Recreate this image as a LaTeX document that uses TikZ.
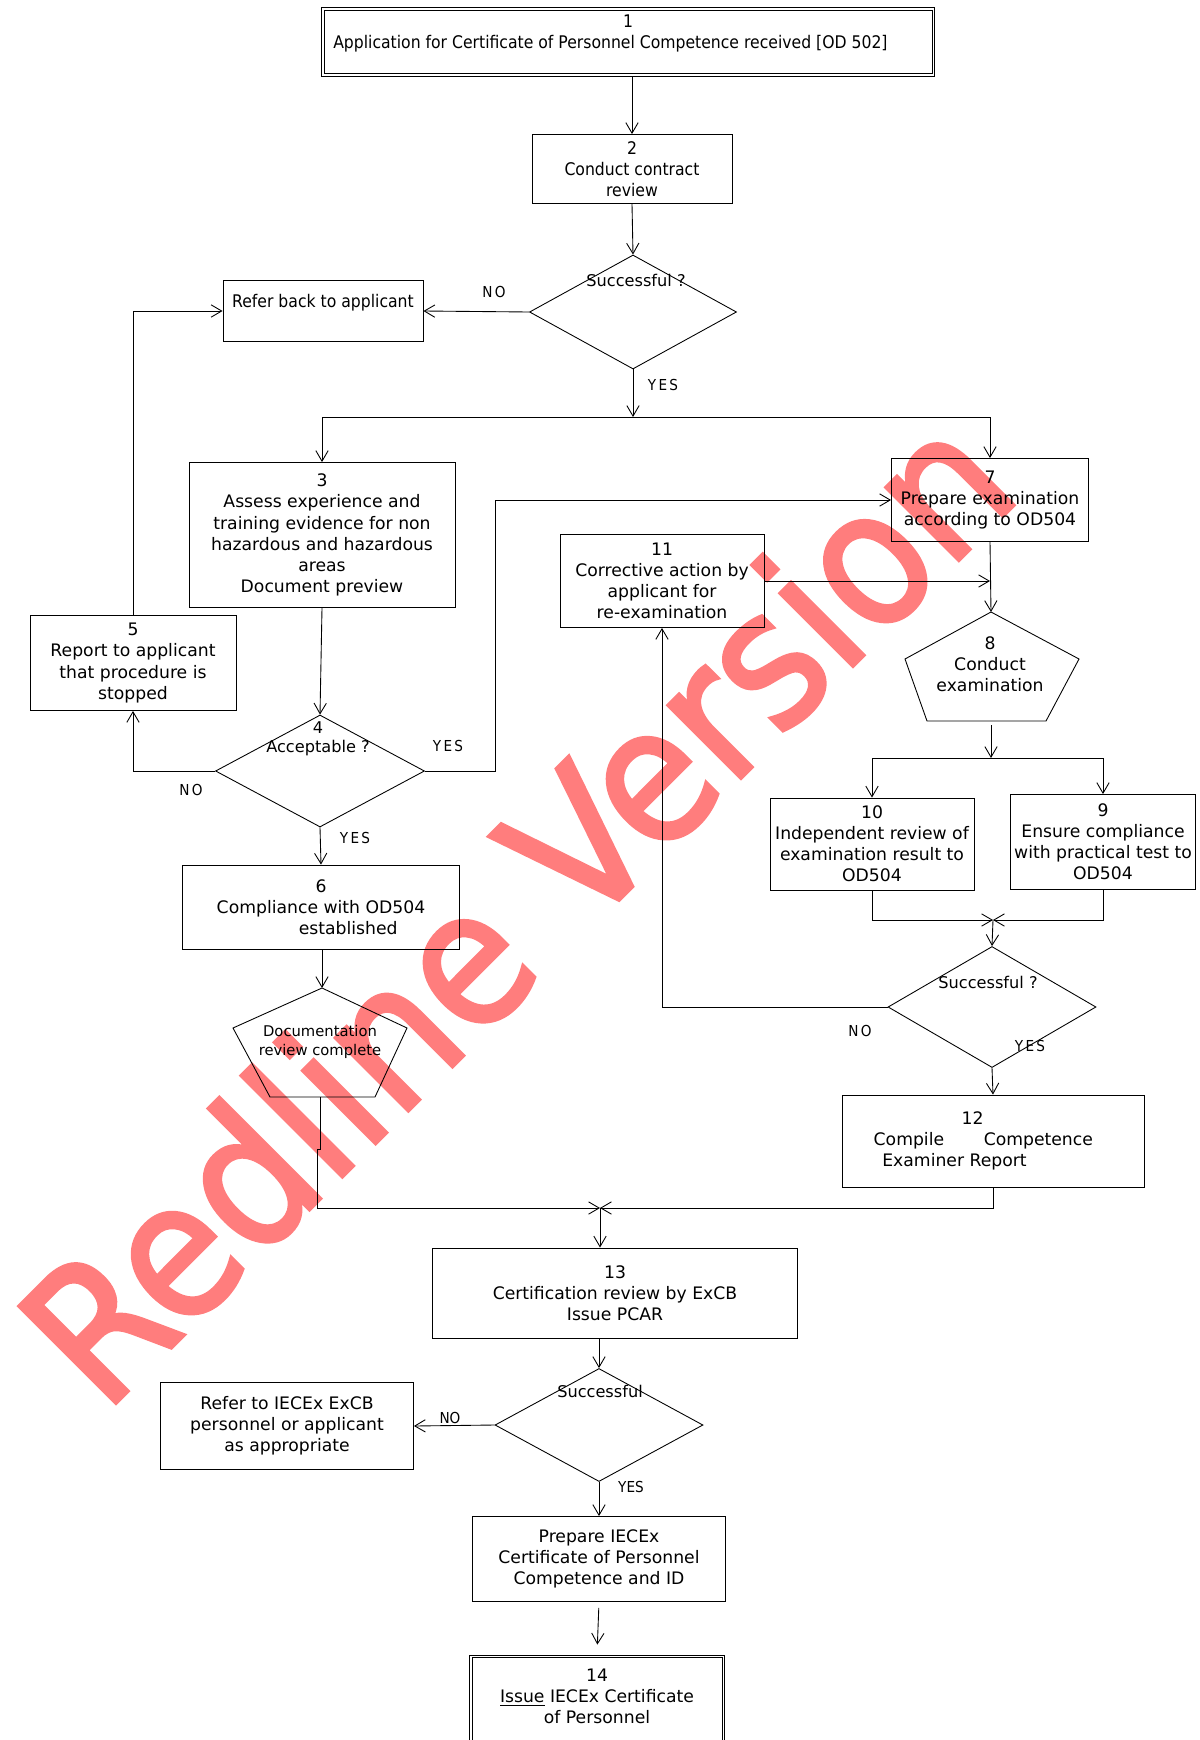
\documentclass[tikz,border=0pt]{standalone}
\usepackage{fontspec}
\setmainfont{DejaVu Sans}
\newfontfamily\condfont{DejaVu Sans Condensed}
\newfontfamily\markfont[FakeBold=2]{DejaVu Sans Condensed}
\newfontfamily\lblfont[LetterSpace=15]{DejaVu Sans Condensed}
\usetikzlibrary{shapes.geometric,arrows.meta}

\begin{document}
\begin{tikzpicture}[x=0.2mm, y=-0.2mm,
    >={Straight Barb[length=6pt,width=7pt]},
    line width=0.5pt,
    box/.style={draw, align=center, inner sep=1pt, font=\fontsize{9.8}{12}\selectfont},
    cbox/.style={box, font=\condfont\fontsize{9.9}{12}\selectfont},
    decision/.style={draw, diamond, inner sep=0pt},
    txt/.style={align=center, inner sep=0pt, font=\fontsize{9.2}{11}\selectfont},
    yesno/.style={inner sep=0pt, font=\lblfont\fontsize{8.6}{10}\selectfont},
  ]

\definecolor{markred}{RGB}{255,125,125}
\useasboundingbox (0,0) rectangle (1199,1740);
\clip (0,0) rectangle (1199,1740);

%watermark
\node[rotate=45, anchor=base west, inner sep=0pt, text=markred, font=\markfont\fontsize{107}{107}\selectfont] (mark) at (104,1415) {Redline Version};

%boxes
\node[cbox, minimum width=122.6mm, minimum height=13.8mm] (app) at (628,42) {1\\Application for Certificate of Personnel Competence received [OD 502]\hspace*{20pt}\mbox{}\\\mbox{}};
\draw ([xshift=0.6mm,yshift=-0.6mm]app.north west) rectangle ([xshift=-0.6mm,yshift=0.6mm]app.south east);
\node[cbox, minimum width=40mm, minimum height=13.8mm] (rev) at (632,169) {2\\Conduct contract\\review};
\node[cbox, minimum width=40mm, minimum height=12.2mm] (refer) at (323,311) {Refer back to applicant\\\mbox{}};
\node[box, minimum width=53.2mm, minimum height=29mm] (assess) at (322,535) {3\\Assess experience and\\training evidence for non\\hazardous and hazardous\\areas\\Document preview};
\node[box, minimum width=41.2mm, minimum height=19mm] (stop) at (133,663) {5\\Report to applicant\\that procedure is\\stopped};
\node[box, minimum width=55.4mm, minimum height=16.8mm] (comply) at (321,907) {6\\Compliance with OD504\\\hspace*{31pt}established};
\node[box, minimum width=39.4mm, minimum height=16.6mm] (prep) at (990,500) {7\\Prepare examination\\according to OD504};
\node[box, minimum width=40.8mm, minimum height=18.6mm] (corr) at (662,581) {11\\Corrective action by\\applicant for\\re-examination};
\node[box, minimum width=40.8mm, minimum height=18.4mm] (indep) at (872,844) {10\\Independent review of\\examination result to\\OD504};
\node[box, minimum width=37mm, minimum height=19mm] (ensure) at (1103,842) {9\\Ensure compliance\\with practical test to\\OD504};
\node[box, minimum width=60.4mm, minimum height=18.4mm, align=left] (compile) at (993,1141) {\hspace*{5.1em}12\\Compile\hspace{2.3em}Competence\hspace*{11pt}\mbox{}\\\hspace*{0.5em}Examiner Report};
\node[box, minimum width=73mm, minimum height=18mm] (certrev) at (615,1293) {13\\Certification review by ExCB\\Issue PCAR};
\node[box, minimum width=50.6mm, minimum height=17.4mm] (referex) at (287,1426) {Refer to IECEx ExCB\\personnel or applicant\\as appropriate};
\node[box, minimum width=50.6mm, minimum height=17mm] (prepcert) at (599,1559) {Prepare IECEx\\Certificate of Personnel\\Competence and ID};
\node[box, minimum width=51mm, minimum height=20.8mm] (issue) at (597,1707) {14\\\underline{Issue} IECEx Certificate\\of Personnel\\\mbox{}};
\draw ([xshift=0.6mm,yshift=-0.6mm]issue.north west) rectangle ([xshift=-0.6mm,yshift=0.6mm]issue.south east);

%decisions
\node[decision, minimum width=41.4mm, minimum height=22.8mm] (q1) at (633,312) {};
\node[txt] (q1text) at (636,280) {Successful ?};
\node[decision, minimum width=41.8mm, minimum height=22.4mm] (q2) at (320,771) {};
\node[txt] (q2text) at (318,739) {4\\Acceptable ?};
\node[decision, minimum width=41.6mm, minimum height=24.2mm] (q3) at (992,1007) {};
\node[txt] (q3text) at (988,982) {Successful ?};
\node[decision, minimum width=41.6mm, minimum height=22.6mm] (q4) at (599,1425) {};
\node[txt] (q4text) at (600,1391) {Successful};

%pentagons
\draw (322,988) -- (407,1028) -- (375,1097) -- (270,1097) -- (233,1028) -- cycle;
\coordinate (doctop) at (322,988);
\coordinate (docbot) at (320,1097);
\node[txt, font=\fontsize{8.4}{11}\selectfont] (doc) at (320,1042) {Documentation\\review complete};
\draw (991,612) -- (1079,659) -- (1046,721) -- (927,721) -- (905,659) -- cycle;
\coordinate (examtop) at (991,612);
\coordinate (exambot) at (991,725);
\node[txt, font=\fontsize{9.8}{12}\selectfont] (exam) at (990,664) {8\\Conduct\\examination};

%labels
\node[yesno] (q1no) at (494,292) {NO};
\node[yesno] (q1yes) at (663,385) {YES};
\node[yesno] (q2yes) at (448,746) {YES};
\node[yesno] (q2no) at (191,790) {NO};
\node[yesno] (q2yesb) at (355,838) {YES};
\node[yesno] (q3no) at (860,1031) {NO};
\node[yesno] (q3yes) at (1030,1046) {YES};
\node[yesno, font=\condfont\fontsize{8.6}{10}\selectfont] (q4no) at (450,1418) {NO};
\node[yesno, font=\condfont\fontsize{8.6}{10}\selectfont] (q4yes) at (631,1487) {YES};

%arrows
\draw[->] (app.south -| rev.north) -- (rev.north);
\draw[->] (rev.south) -- (q1.north);
\draw[->] (q1.west) -- (refer.east);
\coordinate (split) at (633,417);
\draw[->] (q1.south) -- (split);
\draw (assess.north |- split) -- (prep.north |- split);
\draw[->] (assess.north |- split) -- (assess.north);
\draw[->] (prep.north |- split) -- (prep.north);
\draw[->] (assess.south) -- (q2.north);
\draw[->] (q2.west) -| (stop.south);
\draw[->] (stop.north) |- (refer.west);
\draw[->] (q2.east) -- ++(70,0) |- (prep.west);
\draw[->] (q2.south) -- (comply.north);
\draw[->] (comply.south -| doctop) -- (doctop);
\draw[->] (prep.south) -- (examtop);
\draw[->] (corr.east) -- (corr.east -| prep.south);

%exam branches
\coordinate (split8) at (991,758);
\draw[->] (exambot) -- (split8);
\draw (indep.north |- split8) -- (ensure.north |- split8);
\draw[->] (indep.north |- split8) -- (indep.north);
\draw[->] (ensure.north |- split8) -- (ensure.north);
\coordinate (merge9) at (993,920);
\draw[->] (indep.south) |- (merge9);
\draw[->] (ensure.south) |- (merge9);
\draw[->] (merge9) -- (q3.north);
\draw[->] (q3.west) -| (corr.south);
\draw[->] (q3.south) -- (compile.north);

%certification
\coordinate (merge13) at (600,1208);
\draw[->] (docbot) -- ++(0,52) -- ++(-3,0) |- (merge13);
\draw[->] (compile.south) |- (merge13);
\draw[->] (merge13) -- (merge13 |- certrev.north);
\draw[->] (certrev.south -| q4.north) -- (q4.north);
\draw[->] (q4.west) -- (referex.east);
\draw[->] (q4.south) -- (prepcert.north);
\draw[->, shorten <=1.2mm, shorten >=2mm] (prepcert.south) -- (issue.north);

\end{tikzpicture}
\end{document}
